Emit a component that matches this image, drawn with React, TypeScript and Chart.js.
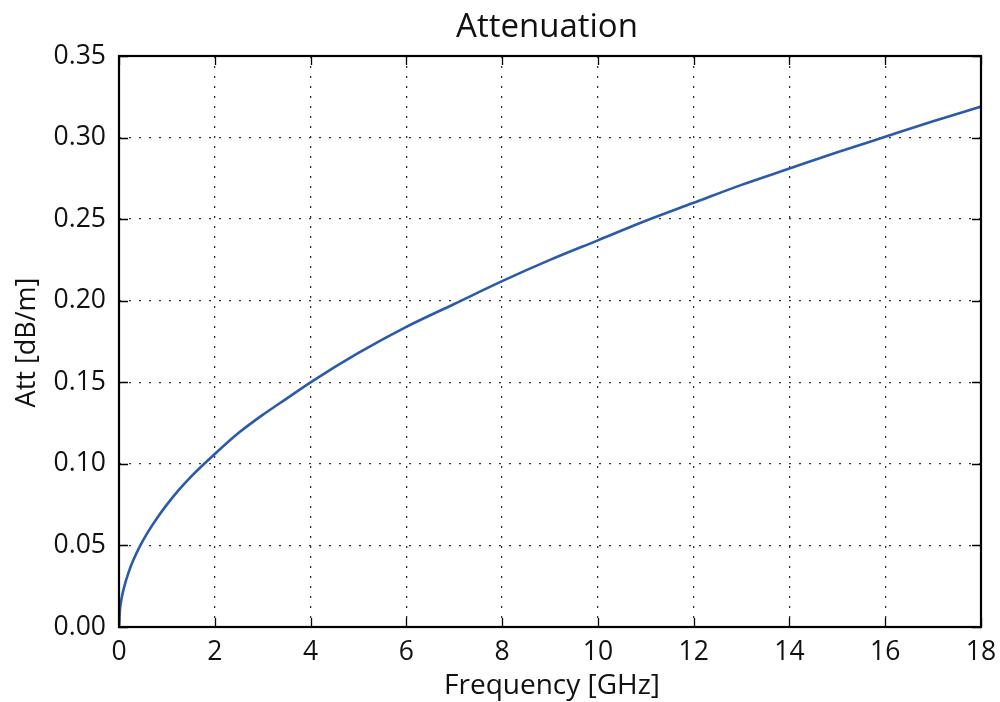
import React, { useEffect, useRef } from "react";
import { Chart, registerables } from "chart.js";

Chart.register(...registerables);

const chartTitle = "Attenuation";
const xAxisLabel = "Frequency [GHz]";
const yAxisLabel = "Att [dB/m]";

const frequencyGHz = [0, 0.02, 0.05, 0.1, 0.2, 0.3, 0.44, 0.6, 0.8, 1, 1.25, 1.5, 2, 2.5, 3, 3.5, 4, 5, 6, 7, 8, 9, 10, 11, 12, 13, 14, 15, 16, 17, 18];
const attenuationDbPerM = [0, 0.0106, 0.0168, 0.0237, 0.0335, 0.041, 0.0497, 0.058, 0.067, 0.075, 0.084, 0.092, 0.106, 0.119, 0.130, 0.140, 0.150, 0.168, 0.184, 0.198, 0.212, 0.225, 0.237, 0.249, 0.260, 0.271, 0.281, 0.291, 0.3005, 0.310, 0.319];

const xMin = 0, xMax = 18, xStep = 2;
const yMin = 0, yMax = 0.35, yStep = 0.05;

const FONT = "'Open Sans', 'Noto Sans', sans-serif";
const TEXT = "#111111";

const framePlugin = {
  id: "frame",
  afterDraw(chart: any) {
    const { ctx, chartArea } = chart;
    const { left, right, top, bottom } = chartArea;
    const xs = chart.scales.x;
    const ys = chart.scales.y;
    ctx.save();
    ctx.strokeStyle = "#000";
    ctx.lineWidth = 1.3;
    const tl = 9;
    ctx.beginPath();
    xs.ticks.forEach((t: any) => {
      const px = Math.round(xs.getPixelForValue(t.value)) + 0.5;
      ctx.moveTo(px, bottom);
      ctx.lineTo(px, bottom - tl);
      ctx.moveTo(px, top);
      ctx.lineTo(px, top + tl);
    });
    ys.ticks.forEach((t: any) => {
      const py = Math.round(ys.getPixelForValue(t.value)) + 0.5;
      ctx.moveTo(left, py);
      ctx.lineTo(left + tl, py);
      ctx.moveTo(right, py);
      ctx.lineTo(right - tl, py);
    });
    ctx.stroke();
    ctx.lineWidth = 2.2;
    ctx.strokeRect(left, top, right - left, bottom - top);
    ctx.fillStyle = TEXT;
    ctx.textAlign = "center";
    ctx.textBaseline = "alphabetic";
    ctx.font = `33px ${FONT}`;
    ctx.fillText(chartTitle, (left + right) / 2 - 3, 37);
    ctx.font = `28px ${FONT}`;
    ctx.fillText(xAxisLabel, (left + right) / 2 + 2, 694);
    ctx.font = `27px ${FONT}`;
    ctx.translate(35, (top + bottom) / 2 + 1);
    ctx.rotate(-Math.PI / 2);
    ctx.fillText(yAxisLabel, 0, 0);
    ctx.restore();
  },
};

export default function App() {
  const ref = useRef<HTMLCanvasElement | null>(null);
  useEffect(() => {
    document.body.style.margin = "0";
    const canvas = ref.current!;
    const chart = new Chart(canvas, {
      type: "line",
      data: {
        datasets: [
          {
            label: "Att",
            data: frequencyGHz.map((f, i) => ({ x: f, y: attenuationDbPerM[i] })),
            borderColor: "#2b5aa8",
            borderWidth: 2.6,
            pointRadius: 0,
            cubicInterpolationMode: "monotone",
            fill: false,
          },
        ],
      },
      options: {
        responsive: false,
        animation: false,
        devicePixelRatio: 1,
        layout: { padding: { top: 56, right: 19, bottom: 0, left: 0 } },
        plugins: { legend: { display: false }, tooltip: { enabled: false }, title: { display: false } },
        scales: {
          x: {
            type: "linear",
            min: xMin,
            max: xMax,
            afterFit: (s: any) => { s.height = 75; s.paddingLeft = 0; s.paddingRight = 0; },
            ticks: { stepSize: xStep, padding: 10, color: TEXT, font: { family: FONT, size: 26.5 }, maxRotation: 0 },
            grid: { color: "#333", lineWidth: 1.3, drawTicks: false },
            border: { display: false, dash: [2, 8] },
          },
          y: {
            type: "linear",
            min: yMin,
            max: yMax,
            afterFit: (s: any) => { s.width = 119; s.paddingTop = 0; s.paddingBottom = 0; },
            ticks: {
              stepSize: yStep,
              padding: 13,
              color: TEXT,
              font: { family: FONT, size: 26.5 },
              callback: (v: any) => Number(v).toFixed(2),
            },
            grid: { color: "#333", lineWidth: 1.3, drawTicks: false },
            border: { display: false, dash: [2, 8] },
          },
        },
      },
      plugins: [framePlugin],
    } as any);
    return () => chart.destroy();
  }, []);
  return (
    <div style={{ position: "absolute", left: 0, top: 0, width: 1000, height: 702, background: "#fff" }}>
      <canvas ref={ref} width={1000} height={702} />
    </div>
  );
}
